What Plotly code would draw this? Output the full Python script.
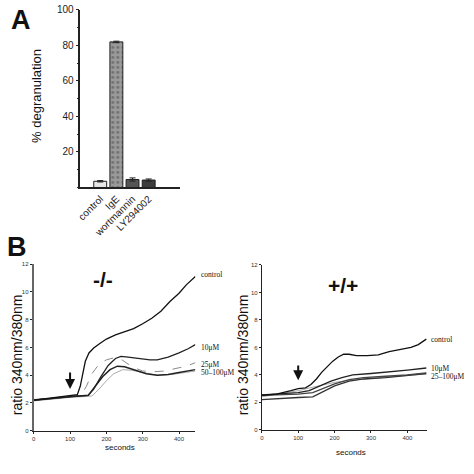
import plotly.graph_objects as go

W = H = 474
def px(x): return x / W
def py(y): return 1 - y / H

# Panel A data
categories = ["control", "IgE", "wortmannin", "LY294002"]
degranulation = [3.5, 82, 4.5, 4.2]
degran_err = [0.4, 0.4, 0.9, 0.6]
bar_colors = ["#e8e8e8", "#9a9a9a", "#555555", "#3c3c3c"]

# Panel B (-/-) data
ko_ctrl_t = [0, 30, 60, 100, 120, 128, 135, 142, 152, 165, 180, 200, 225, 250, 275, 300, 325, 350, 375, 400, 420, 445]
ko_ctrl_v = [2.2, 2.3, 2.4, 2.5, 2.6, 3.2, 4.2, 5.0, 5.6, 5.95, 6.25, 6.6, 6.9, 7.1, 7.35, 7.7, 8.1, 8.6, 9.3, 9.9, 10.5, 11.1]
ko_10_t = [0, 50, 100, 150, 165, 185, 205, 225, 240, 260, 290, 320, 340, 370, 400, 425, 445]
ko_10_v = [2.2, 2.35, 2.45, 2.55, 3.0, 3.9, 4.7, 5.2, 5.35, 5.3, 5.2, 5.1, 5.1, 5.3, 5.6, 5.9, 6.2]
ko_25_t = [0, 50, 100, 130, 145, 160, 180, 200, 220, 240, 260, 280, 300, 330, 360, 390, 420, 445]
ko_25_v = [2.25, 2.35, 2.45, 2.55, 3.2, 4.1, 4.8, 5.1, 5.25, 5.15, 4.8, 4.5, 4.3, 4.25, 4.3, 4.45, 4.65, 4.9]
ko_50_t = [0, 50, 100, 150, 170, 190, 210, 230, 250, 280, 310, 340, 370, 400, 430, 445]
ko_50_v = [2.2, 2.35, 2.45, 2.55, 3.2, 3.9, 4.4, 4.65, 4.6, 4.35, 4.1, 4.0, 4.05, 4.2, 4.3, 4.4]
ko_100_t = [0, 50, 100, 160, 180, 200, 220, 245, 270, 300, 340, 380, 420, 445]
ko_100_v = [2.15, 2.3, 2.4, 2.5, 3.0, 3.6, 4.1, 4.4, 4.35, 4.2, 4.0, 4.05, 4.2, 4.3]

# Panel B (+/+) data
wt_ctrl_t = [0, 40, 80, 100, 120, 135, 150, 165, 180, 195, 210, 225, 240, 260, 290, 320, 350, 380, 410, 430, 452]
wt_ctrl_v = [2.5, 2.6, 2.85, 3.0, 3.05, 3.3, 3.7, 4.2, 4.6, 5.0, 5.3, 5.5, 5.5, 5.4, 5.4, 5.45, 5.7, 5.85, 6.0, 6.2, 6.6]
wt_10_t = [0, 50, 100, 130, 160, 190, 220, 250, 300, 350, 400, 452]
wt_10_v = [2.55, 2.6, 2.7, 2.85, 3.2, 3.55, 3.8, 4.0, 4.1, 4.2, 4.35, 4.5]
wt_25_t = [0, 50, 100, 140, 170, 200, 240, 280, 340, 400, 452]
wt_25_v = [2.2, 2.3, 2.35, 2.4, 2.8, 3.2, 3.55, 3.7, 3.8, 3.95, 4.1]
wt_50_t = [0, 50, 100, 140, 170, 200, 240, 280, 340, 400, 452]
wt_50_v = [2.5, 2.55, 2.6, 2.7, 3.0, 3.35, 3.65, 3.8, 3.9, 4.0, 4.15]
wt_100_t = [0, 50, 100, 140, 170, 200, 240, 300, 360, 420, 452]
wt_100_v = [2.4, 2.6, 2.85, 3.1, 3.3, 3.45, 3.6, 3.75, 3.85, 4.0, 4.05]

xticks_b = [0, 100, 200, 300, 400]
yticks_b = [0, 2, 4, 6, 8, 10, 12]
yticks_a = [20, 40, 60, 80, 100]

SANS = "Arial, Liberation Sans, sans-serif"
SERIF = "Times New Roman, Liberation Serif, serif"

fig = go.Figure()

fig.add_trace(go.Bar(
    x=list(range(len(categories))), y=degranulation, width=0.8,
    marker=dict(color=bar_colors, line=dict(color="#222", width=1),
                pattern=dict(shape=["", ".", "", ""], fgcolor="white", size=5, solidity=0.25)),
    error_y=dict(type="data", array=degran_err, color="#222", thickness=1, width=3),
    xaxis="x", yaxis="y", showlegend=False))

def line(t, v, ax, color, width, dash="solid"):
    fig.add_trace(go.Scatter(x=t, y=v, mode="lines", xaxis="x" + ax, yaxis="y" + ax,
                             line=dict(color=color, width=width, dash=dash), showlegend=False))

line(ko_100_t, ko_100_v, "2", "#aaaaaa", 1)
line(ko_25_t, ko_25_v, "2", "#8a8a8a", 1, "dash")
line(ko_50_t, ko_50_v, "2", "#222", 1.5)
line(ko_10_t, ko_10_v, "2", "#222", 1.3)
line(ko_ctrl_t, ko_ctrl_v, "2", "#111", 1.3)

line(wt_100_t, wt_100_v, "3", "#aaaaaa", 1)
line(wt_25_t, wt_25_v, "3", "#333", 1.3)
line(wt_50_t, wt_50_v, "3", "#444", 1.3)
line(wt_10_t, wt_10_v, "3", "#222", 1.3)
line(wt_ctrl_t, wt_ctrl_v, "3", "#111", 1.3)

axis_common = dict(showline=True, linecolor="#222", linewidth=1, ticks="outside",
                   ticklen=2, tickcolor="#222", showgrid=False, zeroline=False)

fig.update_layout(
    width=W, height=H, autosize=False, margin=dict(l=0, r=0, t=0, b=0),
    paper_bgcolor="white", plot_bgcolor="white",
    xaxis=dict(domain=[px(77), px(178)], range=[-1.23, 4.97], anchor="y",
               tickmode="array", tickvals=list(range(len(categories))), ticktext=categories,
               tickangle=-45, showline=True, linecolor="#222", linewidth=1.5, ticks="",
               showgrid=False, zeroline=False, tickfont=dict(family=SANS, size=10, color="#222")),
    yaxis=dict(domain=[py(185), py(4)], range=[0, 100], anchor="x", tickvals=yticks_a,
               tickfont=dict(family=SANS, size=10, color="#222"),
               **{**axis_common, "linewidth": 1.5, "ticklen": 3},
               minor=dict(ticks="outside", ticklen=2, tickcolor="#222", dtick=10)),
    xaxis2=dict(domain=[px(30), px(193)], range=[0, 445], anchor="y2", tickvals=xticks_b,
                tickfont=dict(family=SANS, size=6, color="#333"), **axis_common),
    yaxis2=dict(domain=[py(433), py(263)], range=[0, 12], anchor="x2", tickvals=yticks_b,
                tickfont=dict(family=SANS, size=6, color="#333"), **{**axis_common, "linewidth": 2, "linecolor": "#666"}),
    xaxis3=dict(domain=[px(260), px(427)], range=[0, 455], anchor="y3", tickvals=xticks_b,
                tickfont=dict(family=SANS, size=6, color="#333"), **axis_common),
    yaxis3=dict(domain=[py(432), py(264)], range=[0, 12], anchor="x3", tickvals=yticks_b,
                tickfont=dict(family=SANS, size=6, color="#333"), **axis_common),
)

ann = []
def txt(x, y, s, size, family=SANS, bold=False, angle=0, xanchor="center", xref="paper", yref="paper", color="#111"):
    ann.append(dict(x=x, y=y, xref=xref, yref=yref, text=("<b>%s</b>" % s) if bold else s,
                    showarrow=False, textangle=angle, xanchor=xanchor, yanchor="middle",
                    font=dict(family=family, size=size, color=color)))

txt(px(17), py(14), "A", 27, bold=True)
txt(px(13), py(246), "B", 27, bold=True)
txt(px(33), py(92), "% degranulation", 13, angle=-90)
txt(px(13), py(355), "ratio 340nm/380nm", 14, angle=-90)
txt(px(241), py(355), "ratio 340nm/380nm", 14, angle=-90)
txt(px(117), py(450), "seconds", 8)
txt(px(350), py(455), "seconds", 8)

txt(190, 10.9, "-/-", 21, bold=True, xref="x2", yref="y2")
txt(223, 10.5, "+/+", 21, bold=True, xref="x3", yref="y3")

# curve labels (paper coords, right of plotting areas)
txt(px(197), py(274), "control", 7.5, family=SERIF, xanchor="left")
txt(px(197), py(348), "10μM", 7.5, family=SERIF, xanchor="left")
txt(px(197), py(365), "25μM", 7.5, family=SERIF, xanchor="left")
txt(px(197), py(374), "50–100μM", 7.5, family=SERIF, xanchor="left")
txt(px(429), py(340), "control", 7.5, family=SERIF, xanchor="left")
txt(px(429), py(370), "10μM", 7.5, family=SERIF, xanchor="left")
txt(px(429), py(378), "25–100μM", 7.5, family=SERIF, xanchor="left")

ann.append(dict(x=100, y=3.0, ax=100, ay=4.3, xref="x2", yref="y2", axref="x2", ayref="y2",
                showarrow=True, arrowhead=2, arrowsize=1, arrowwidth=2, arrowcolor="#111", text=""))
ann.append(dict(x=100, y=3.6, ax=100, ay=4.8, xref="x3", yref="y3", axref="x3", ayref="y3",
                showarrow=True, arrowhead=2, arrowsize=1, arrowwidth=2, arrowcolor="#111", text=""))

fig.update_layout(annotations=ann)
fig.write_html("out.html", config={"displayModeBar": False},
               post_script="document.body.style.margin='0';")
